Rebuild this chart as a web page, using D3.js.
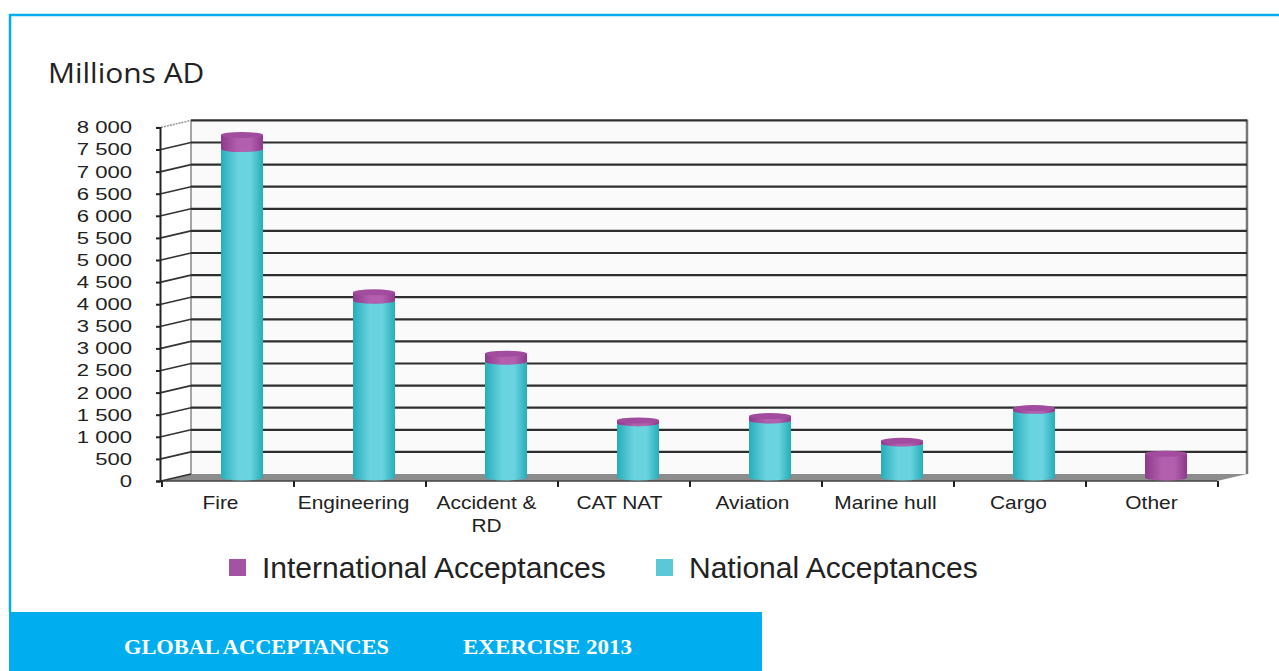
<!DOCTYPE html>
<html>
<head>
<meta charset="utf-8">
<script src="https://cdn.jsdelivr.net/npm/d3@7"></script>
<style>
  body { margin: 0; background: #fff; }
  svg { display: block; }
</style>
</head>
<body>
<svg id="chart" width="1279" height="671"></svg>
<script>
// categories and series (millions AD)
var categories = ["Fire", "Engineering", "Accident &\nRD", "CAT NAT", "Aviation", "Marine hull", "Cargo", "Other"];
var national = [7430, 4000, 2620, 1230, 1290, 770, 1510, 0];
var international = [320, 190, 180, 60, 100, 60, 60, 540];
var yTicks = [0, 500, 1000, 1500, 2000, 2500, 3000, 3500, 4000, 4500, 5000, 5500, 6000, 6500, 7000, 7500, 8000];
var seriesNames = ["International Acceptances", "National Acceptances"];

var colors = {
  intl: { edge: "#8e3a8c", mid: "#b25fae", cap: "#a24c9f", legend: "#a452a2" },
  nat: { edge: "#26aeb8", mid: "#6ad3e0", cap: "#4cc3d1", legend: "#5bc8d8" }
};
var blue = "#00aeef";

// the original text is set a bit wide, so stretch it horizontally
function stretch(sel, k) {
  sel.each(function() {
    var w = this.getComputedTextLength();
    d3.select(this).attr("textLength", w * k).attr("lengthAdjust", "spacingAndGlyphs");
  });
}

var svg = d3.select("#chart");

// frame
svg.append("line").attr("x1", 10).attr("y1", 15).attr("x2", 1279).attr("y2", 15)
  .attr("stroke", blue).attr("stroke-width", 2.5);
svg.append("line").attr("x1", 10).attr("y1", 14).attr("x2", 10).attr("y2", 612)
  .attr("stroke", blue).attr("stroke-width", 2.5);
svg.append("rect").attr("x", 9).attr("y", 612).attr("width", 753).attr("height", 59).attr("fill", blue);
var foot = svg.append("g").attr("font-family", "'Liberation Serif', 'DejaVu Serif', serif")
  .attr("font-weight", "bold").attr("font-size", 21).attr("fill", "#fff");
foot.append("text").attr("x", 124).attr("y", 654).attr("textLength", 265).attr("lengthAdjust", "spacingAndGlyphs").text("GLOBAL ACCEPTANCES");
foot.append("text").attr("x", 463).attr("y", 654).attr("textLength", 169).attr("lengthAdjust", "spacingAndGlyphs").text("EXERCISE  2013");

// unit label
svg.append("text").attr("x", 48).attr("y", 83)
  .attr("font-family", "'Open Sans', 'DejaVu Sans', sans-serif").attr("font-size", 28).attr("fill", "#222")
  .text("Millions AD").call(stretch, 1.07);

// scales: front plane, depth offset for the back wall
var depth = { dx: 30, dy: -7 };
var x = d3.scaleBand().domain(categories).range([161, 1217]);
var xLabel = d3.scaleBand().domain(categories).range([154, 1218]);
var y = d3.scaleLinear().domain([0, 8000]).range([481, 127.4]);

var defs = svg.append("defs");
function grad(id, c) {
  var g = defs.append("linearGradient").attr("id", id).attr("x1", "0%").attr("x2", "100%");
  g.append("stop").attr("offset", "0%").attr("stop-color", c.edge);
  g.append("stop").attr("offset", "40%").attr("stop-color", c.mid);
  g.append("stop").attr("offset", "70%").attr("stop-color", c.mid);
  g.append("stop").attr("offset", "100%").attr("stop-color", c.edge);
}
grad("gNat", colors.nat);
grad("gIntl", colors.intl);

var plot = svg.append("g");
var x0 = x.range()[0], x1 = x.range()[1];

// back wall
plot.append("rect").attr("x", x0 + depth.dx).attr("y", y(8000) + depth.dy)
  .attr("width", x1 - x0).attr("height", y(0) - y(8000)).attr("fill", "#fafafa");
plot.append("line").attr("x1", x0 + depth.dx).attr("x2", x0 + depth.dx)
  .attr("y1", y(8000) + depth.dy).attr("y2", y(0) + depth.dy).attr("stroke", "#888").attr("stroke-width", 1.5);
plot.append("line").attr("x1", x1 + depth.dx).attr("x2", x1 + depth.dx)
  .attr("y1", y(8000) + depth.dy - 1).attr("y2", y(0) + depth.dy).attr("stroke", "#777").attr("stroke-width", 2.5);

// gridlines on the back wall
plot.selectAll(".grid").data(yTicks.filter(function(d) { return d > 0; })).enter().append("line")
  .attr("x1", x0 + depth.dx).attr("x2", x1 + depth.dx)
  .attr("y1", function(d) { return y(d) + depth.dy; }).attr("y2", function(d) { return y(d) + depth.dy; })
  .attr("stroke", "#2e2e2e").attr("stroke-width", 2.2);

// floor
plot.append("path")
  .attr("d", "M" + x0 + "," + y(0) + "L" + x1 + "," + y(0) + "L" + (x1 + depth.dx) + "," + (y(0) + depth.dy) +
    "L" + (x0 + depth.dx) + "," + (y(0) + depth.dy) + "Z")
  .attr("fill", "#8c8c8c");
plot.append("line").attr("x1", x0).attr("x2", x1).attr("y1", y(0)).attr("y2", y(0))
  .attr("stroke", "#444").attr("stroke-width", 1.5);

// side wall connectors
plot.selectAll(".conn").data(yTicks).enter().append("line")
  .attr("x1", x0).attr("x2", x0 + depth.dx)
  .attr("y1", function(d) { return y(d); }).attr("y2", function(d) { return y(d) + depth.dy; })
  .attr("stroke", function(d) { return d === 8000 ? "#999" : "#333"; })
  .attr("stroke-dasharray", function(d) { return d === 8000 ? "2,1" : null; })
  .attr("stroke-width", 1.6);

// y axis
var yAxis = d3.axisLeft(y).tickValues(yTicks).tickSize(4).tickPadding(24)
  .tickFormat(function(d) { return d3.format(",")(d).replace(/,/g, " "); });
var gy = svg.append("g").attr("transform", "translate(" + (x0 - 1) + ",0)").call(yAxis);
gy.select(".domain").attr("stroke", "#222").attr("stroke-width", 2);
gy.selectAll(".tick line").attr("stroke", "#222").attr("stroke-width", 2);
gy.selectAll("text").attr("font-family", "'Liberation Sans', Arial, sans-serif").attr("font-size", 17).attr("fill", "#222")
  .call(stretch, 1.3);

// x axis ticks
var gx = svg.append("g");
gx.selectAll("line").data(d3.range(categories.length + 1)).enter().append("line")
  .attr("x1", function(i) { return x0 + 1 + i * x.step(); }).attr("x2", function(i) { return x0 + 1 + i * x.step(); })
  .attr("y1", y(0)).attr("y2", y(0) + 6).attr("stroke", "#222").attr("stroke-width", 2);
var labels = gx.selectAll("text").data(categories).enter().append("text")
  .attr("text-anchor", "middle")
  .attr("x", function(d) { return xLabel(d) + xLabel.bandwidth() / 2; })
  .attr("y", 509)
  .attr("font-family", "'Liberation Sans', Arial, sans-serif").attr("font-size", 18.5).attr("fill", "#222");
labels.each(function(d) {
  var t = d3.select(this);
  d.split("\n").forEach(function(s, i) {
    t.append("tspan").attr("x", t.attr("x")).attr("dy", i === 0 ? 0 : 23).text(s);
  });
});
labels.selectAll("tspan").call(stretch, 1.13);

// cylinders, drawn at mid depth
var mid = { dx: depth.dx / 2, dy: depth.dy / 2 };
var bw = 42, ry = 3;
var stacks = categories.map(function(c, i) {
  return [
    { cat: c, v0: 0, v1: national[i], fill: "url(#gNat)", cap: colors.nat.cap },
    { cat: c, v0: national[i], v1: national[i] + international[i], fill: "url(#gIntl)", cap: colors.intl.cap }
  ].filter(function(s) { return s.v1 > s.v0; });
});
var bars = plot.selectAll(".bar").data(stacks).enter().append("g").attr("class", "bar");
bars.each(function(segs) {
  var g = d3.select(this);
  segs.forEach(function(s) {
    var cx = x(s.cat) + x.bandwidth() / 2 + mid.dx;
    var yt = y(s.v1) + mid.dy, yb = y(s.v0) + mid.dy;
    g.append("ellipse").attr("cx", cx).attr("cy", yb).attr("rx", bw / 2).attr("ry", ry).attr("fill", s.fill);
    g.append("rect").attr("x", cx - bw / 2).attr("y", yt).attr("width", bw).attr("height", yb - yt).attr("fill", s.fill);
    g.append("ellipse").attr("cx", cx).attr("cy", yt).attr("rx", bw / 2).attr("ry", ry).attr("fill", s.cap);
  });
});

// legend
var legend = svg.append("g").attr("font-family", "'Liberation Sans', Arial, sans-serif").attr("font-size", 29).attr("fill", "#222");
var legendX = [229, 656];
seriesNames.forEach(function(name, i) {
  legend.append("rect").attr("x", legendX[i]).attr("y", 559).attr("width", 17).attr("height", 17)
    .attr("fill", i === 0 ? colors.intl.legend : colors.nat.legend);
  legend.append("text").attr("x", legendX[i] + 33).attr("y", 578).text(name).call(stretch, 1.035);
});
</script>
</body>
</html>
